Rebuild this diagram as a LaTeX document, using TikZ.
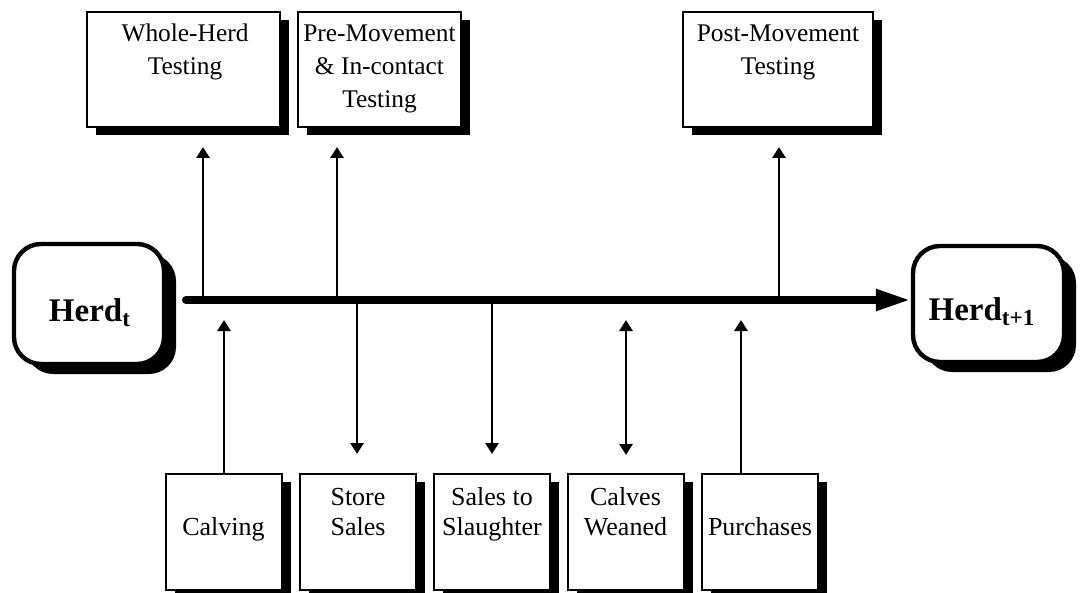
\documentclass[tikz,border=0pt]{standalone}
\usepackage{fontspec}
\setmainfont{Liberation Serif}
\usetikzlibrary{arrows.meta,shadows}
\begin{document}
\begin{tikzpicture}[x=0.5pt,y=-0.5pt,
  sbox/.style={draw=black, line width=1pt, fill=white, rectangle, inner sep=0pt,
    drop shadow={shadow xshift=4.5pt, shadow yshift=-4pt, opacity=1, fill=black}},
  topbox/.style={sbox, minimum height=57.5pt},
  botbox/.style={sbox, minimum width=58pt, minimum height=58pt},
  herdbox/.style={draw=black, line width=2.2pt, fill=white, rectangle, rounded corners=13.5pt, inner sep=0pt,
    drop shadow={shadow xshift=6pt, shadow yshift=-5pt, opacity=1, fill=black}},
  toplbl/.style={inner sep=0pt, anchor=base, font=\fontsize{12.7}{15}\selectfont},
  botlbl/.style={inner sep=0pt, anchor=base, font=\fontsize{13}{15}\selectfont},
  herdlbl/.style={inner sep=0pt, anchor=base, font=\fontsize{16.5}{18}\selectfont\bfseries},
  arr/.style={line width=1.4pt, -{Triangle[length=5.5pt,width=6.5pt]}},
  arrboth/.style={line width=1.4pt, {Triangle[length=5.5pt,width=6.5pt]}-{Triangle[length=5.5pt,width=6.5pt]}},
  mainarr/.style={line width=4pt, line cap=round, -{Triangle[length=17.5pt,width=10pt]}}
]
\useasboundingbox (0,0) rectangle (1080,593);

% Herd boxes
\node[herdbox, minimum width=75pt, minimum height=60pt] (ht) at (89,304) {};
\node[herdbox, minimum width=75.5pt, minimum height=58pt] (h1) at (988.5,304) {};
\node[herdlbl] (htl) at (90,321) {Herd\textsubscript{t}};
\node[herdlbl] (h1l) at (982,320) {Herd\textsubscript{t+1}};

% top boxes
\node[topbox, minimum width=96.5pt] (wh) at (183.5,69.5) {};
\node[topbox, minimum width=81.5pt] (pm) at (379.5,69.5) {};
\node[topbox, minimum width=95pt] (post) at (778,69.5) {};

\node[toplbl] (wh1) at (185,42) {Whole-Herd};
\node[toplbl] (wh2) at (185,75) {Testing};
\node[toplbl] (pm1) at (379.5,42) {Pre-Movement};
\node[toplbl] (pm2) at (379.5,75) {\& In-contact};
\node[toplbl] (pm3) at (379.5,108) {Testing};
\node[toplbl] (po1) at (778,42) {Post-Movement};
\node[toplbl] (po2) at (778,75) {Testing};

% bottom boxes
\node[botbox] (cal) at (223.5,532) {};
\node[botbox] (st) at (358,532) {};
\node[botbox] (sl) at (492,532) {};
\node[botbox] (wn) at (625.5,532) {};
\node[botbox] (pu) at (760,532) {};

\node[botlbl] (cal1) at (223.5,535) {Calving};
\node[botlbl] (st1) at (358,505) {Store};
\node[botlbl] (st2) at (358,535) {Sales};
\node[botlbl] (sl1) at (492,505) {Sales to};
\node[botlbl] (sl2) at (492,535) {Slaughter};
\node[botlbl] (wn1) at (625.5,505) {Calves};
\node[botlbl] (wn2) at (625.5,535) {Weaned};
\node[botlbl] (pu1) at (760,535) {Purchases};

% coordinates on the main line
\coordinate (ms) at (186,300);
\coordinate (mwh) at (203,300);
\coordinate (mpm) at (337,300);
\coordinate (mpo) at (779,300);
\coordinate (mst) at (357,300);
\coordinate (msl) at (492,300);
\coordinate (tcal) at (224,320);
\coordinate (tpu) at (741,320);
\coordinate (tw1) at (626,320);
\coordinate (tw2) at (626,455);

% connectors
\draw[arr, shorten >=9.5pt] (mwh) -- (mwh |- wh.south);
\draw[arr, shorten >=9.5pt] (mpm) -- (mpm |- pm.south);
\draw[arr, shorten >=9.5pt] (mpo) -- (mpo |- post.south);
\draw[arr, shorten >=9.5pt] (mst) -- (mst |- st.north);
\draw[arr, shorten >=9.5pt] (msl) -- (msl |- sl.north);
\draw[arr] (cal.north -| tcal) -- (tcal);
\draw[arr] (pu.north -| tpu) -- (tpu);
\draw[arrboth] (tw1) -- (tw2);

% main arrow
\draw[mainarr] (ms) -- (h1.west |- ms);
\end{tikzpicture}
\end{document}
